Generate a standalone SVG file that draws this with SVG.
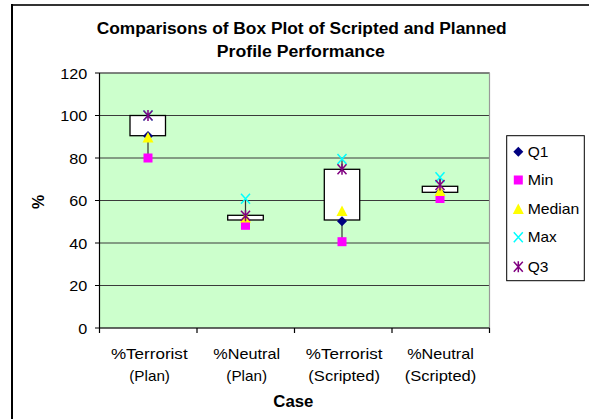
<svg xmlns="http://www.w3.org/2000/svg" width="589" height="419" viewBox="0 0 589 419">
  <style>
    text { font-family: "Liberation Sans", Arial, sans-serif; fill: #000; }
    .title { font-size: 16px; font-weight: bold; text-anchor: middle; }
    .axis-title { font-size: 16px; font-weight: bold; text-anchor: middle; }
    .tick { font-size: 14.5px; text-anchor: end; }
    .cat { font-size: 15px; text-anchor: middle; }
    .leg { font-size: 14.5px; }
    .grid { stroke: #3a3a3a; stroke-width: 1; }
    .axis { stroke: #000; stroke-width: 1.2; }
    .box { fill: #fff; stroke: #000; stroke-width: 1.3; }
    .whisker { stroke: #333; stroke-width: 1.2; }
  </style>
  <defs>
    <polygon id="m-q1" points="0,-5 5,0 0,5 -5,0" fill="#000080"/>
    <rect id="m-min" x="-4.5" y="-4.5" width="9" height="9" fill="#FF00FF"/>
    <polygon id="m-median" points="0,-5.5 5.5,5 -5.5,5" fill="#FFFF00"/>
    <path id="m-max" d="M-4.5,-5 L4.5,5 M-4.5,5 L4.5,-5" stroke="#00FFFF" stroke-width="1.5" fill="none"/>
    <path id="m-q3" d="M-4.5,-5 L4.5,5 M-4.5,5 L4.5,-5 M0,-5.5 L0,5.5" stroke="#800080" stroke-width="1.5" fill="none"/>
  </defs>

  <!-- page -->
  <rect x="0" y="0" width="589" height="419" fill="#fff"/>
  <line x1="12" y1="5" x2="589" y2="5" stroke="#333" stroke-width="2"/>
  <line x1="12" y1="4" x2="12" y2="419" stroke="#000" stroke-width="2"/>

  <!-- title -->
  <g id="title">
    <text class="title" x="301.7" y="34.3" textLength="410" lengthAdjust="spacingAndGlyphs">Comparisons of Box Plot of Scripted and Planned</text>
    <text class="title" x="300.8" y="57.3" textLength="168" lengthAdjust="spacingAndGlyphs">Profile Performance</text>
  </g>

  <!-- plot area -->
  <g id="plot-area">
    <rect x="99.5" y="73" width="390" height="255" fill="#CCFFCC" stroke="#999" stroke-width="1"/>
    <line class="grid" x1="99.5" y1="73" x2="489.5" y2="73"/>
    <line class="grid" x1="99.5" y1="115.5" x2="489.5" y2="115.5"/>
    <line class="grid" x1="99.5" y1="158" x2="489.5" y2="158"/>
    <line class="grid" x1="99.5" y1="200.5" x2="489.5" y2="200.5"/>
    <line class="grid" x1="99.5" y1="243" x2="489.5" y2="243"/>
    <line class="grid" x1="99.5" y1="285.5" x2="489.5" y2="285.5"/>
    <line x1="489.5" y1="73" x2="489.5" y2="328" stroke="#999" stroke-width="1.2"/>
  </g>

  <!-- axes -->
  <g id="y-axis">
    <line class="axis" x1="99.5" y1="73" x2="99.5" y2="328"/>
    <path class="axis" d="M95,73H99.5M95,115.5H99.5M95,158H99.5M95,200.5H99.5M95,243H99.5M95,285.5H99.5M95,328H99.5"/>
    <text class="tick" x="87.3" y="78.5" textLength="27" lengthAdjust="spacingAndGlyphs">120</text>
    <text class="tick" x="87.3" y="121" textLength="27" lengthAdjust="spacingAndGlyphs">100</text>
    <text class="tick" x="87.3" y="163.5" textLength="18" lengthAdjust="spacingAndGlyphs">80</text>
    <text class="tick" x="87.3" y="206" textLength="18" lengthAdjust="spacingAndGlyphs">60</text>
    <text class="tick" x="87.3" y="248.5" textLength="18" lengthAdjust="spacingAndGlyphs">40</text>
    <text class="tick" x="87.3" y="291" textLength="18" lengthAdjust="spacingAndGlyphs">20</text>
    <text class="tick" x="87.3" y="333.5" textLength="9" lengthAdjust="spacingAndGlyphs">0</text>
    <text class="axis-title" transform="translate(43.5,202) rotate(-90)" x="0" y="0">%</text>
  </g>

  <g id="x-axis">
    <line class="axis" x1="99.5" y1="328" x2="489.5" y2="328"/>
    <path class="axis" d="M99.5,328V333M197,328V333M294.5,328V333M392,328V333M489.5,328V333"/>
    <text class="cat" x="149.3" y="358.5" textLength="76.7" lengthAdjust="spacingAndGlyphs">%Terrorist</text>
    <text class="cat" x="149.6" y="381" textLength="40.7" lengthAdjust="spacingAndGlyphs">(Plan)</text>
    <text class="cat" x="246.7" y="358.5" textLength="66.7" lengthAdjust="spacingAndGlyphs">%Neutral</text>
    <text class="cat" x="246.7" y="381" textLength="40.7" lengthAdjust="spacingAndGlyphs">(Plan)</text>
    <text class="cat" x="344.2" y="358.5" textLength="76.7" lengthAdjust="spacingAndGlyphs">%Terrorist</text>
    <text class="cat" x="344.2" y="381" textLength="71.7" lengthAdjust="spacingAndGlyphs">(Scripted)</text>
    <text class="cat" x="440.5" y="358.5" textLength="66.7" lengthAdjust="spacingAndGlyphs">%Neutral</text>
    <text class="cat" x="440.5" y="381" textLength="71.7" lengthAdjust="spacingAndGlyphs">(Scripted)</text>
    <text class="axis-title" x="293.3" y="407.3" textLength="40" lengthAdjust="spacingAndGlyphs">Case</text>
  </g>

  <!-- box 1: %Terrorist (Plan) -->
  <g id="box-terrorist-plan">
    <line class="whisker" x1="148" y1="135.7" x2="148" y2="158"/>
    <rect class="box" x="130" y="115.5" width="35.5" height="20.2"/>
    <use href="#m-q1" x="148" y="136"/>
    <use href="#m-min" x="148" y="158"/>
    <use href="#m-median" x="148" y="137.5"/>
    <use href="#m-max" x="148" y="115.5"/>
    <use href="#m-q3" x="148" y="115.5"/>
  </g>

  <!-- box 2: %Neutral (Plan) -->
  <g id="box-neutral-plan">
    <line class="whisker" x1="245.5" y1="198.7" x2="245.5" y2="215.3"/>
    <rect class="box" x="227.7" y="215.3" width="35.6" height="4.7"/>
    <use href="#m-q1" x="245.5" y="220"/>
    <use href="#m-min" x="245.5" y="225.3"/>
    <use href="#m-median" x="245.5" y="217.5"/>
    <use href="#m-max" x="245.5" y="198.7"/>
    <use href="#m-q3" x="245.5" y="215.7"/>
  </g>

  <!-- box 3: %Terrorist (Scripted) -->
  <g id="box-terrorist-scripted">
    <line class="whisker" x1="342" y1="159" x2="342" y2="169.3"/>
    <line class="whisker" x1="342" y1="220" x2="342" y2="241.7"/>
    <rect class="box" x="324.3" y="169.3" width="35.4" height="50.7"/>
    <use href="#m-q1" x="342" y="221.3"/>
    <use href="#m-min" x="342" y="241.7"/>
    <use href="#m-median" x="342" y="211"/>
    <use href="#m-max" x="342" y="159"/>
    <use href="#m-q3" x="342" y="169.3"/>
  </g>

  <!-- box 4: %Neutral (Scripted) -->
  <g id="box-neutral-scripted">
    <line class="whisker" x1="440" y1="177.3" x2="440" y2="186.3"/>
    <rect class="box" x="422.3" y="186.3" width="35.4" height="6"/>
    <use href="#m-q1" x="440" y="192.3"/>
    <use href="#m-min" x="440" y="198.5"/>
    <use href="#m-median" x="440" y="191"/>
    <use href="#m-max" x="440" y="177.3"/>
    <use href="#m-q3" x="440" y="185"/>
  </g>

  <!-- legend -->
  <g id="legend">
    <rect x="506.7" y="135.7" width="77.6" height="145" fill="#fff" stroke="#000" stroke-width="1"/>
    <use href="#m-q1" x="518.3" y="151.7"/>
    <text class="leg" x="527.7" y="156.5" textLength="20.7" lengthAdjust="spacingAndGlyphs">Q1</text>
    <use href="#m-min" x="518.3" y="180"/>
    <text class="leg" x="527.7" y="185" textLength="25.7" lengthAdjust="spacingAndGlyphs">Min</text>
    <use href="#m-median" x="518.3" y="209"/>
    <text class="leg" x="527.7" y="214" textLength="51.7" lengthAdjust="spacingAndGlyphs">Median</text>
    <use href="#m-max" x="518.3" y="237.3"/>
    <text class="leg" x="527.7" y="242.3" textLength="29" lengthAdjust="spacingAndGlyphs">Max</text>
    <use href="#m-q3" x="518.3" y="266.7"/>
    <text class="leg" x="527.7" y="271.5" textLength="20.7" lengthAdjust="spacingAndGlyphs">Q3</text>
  </g>
</svg>
